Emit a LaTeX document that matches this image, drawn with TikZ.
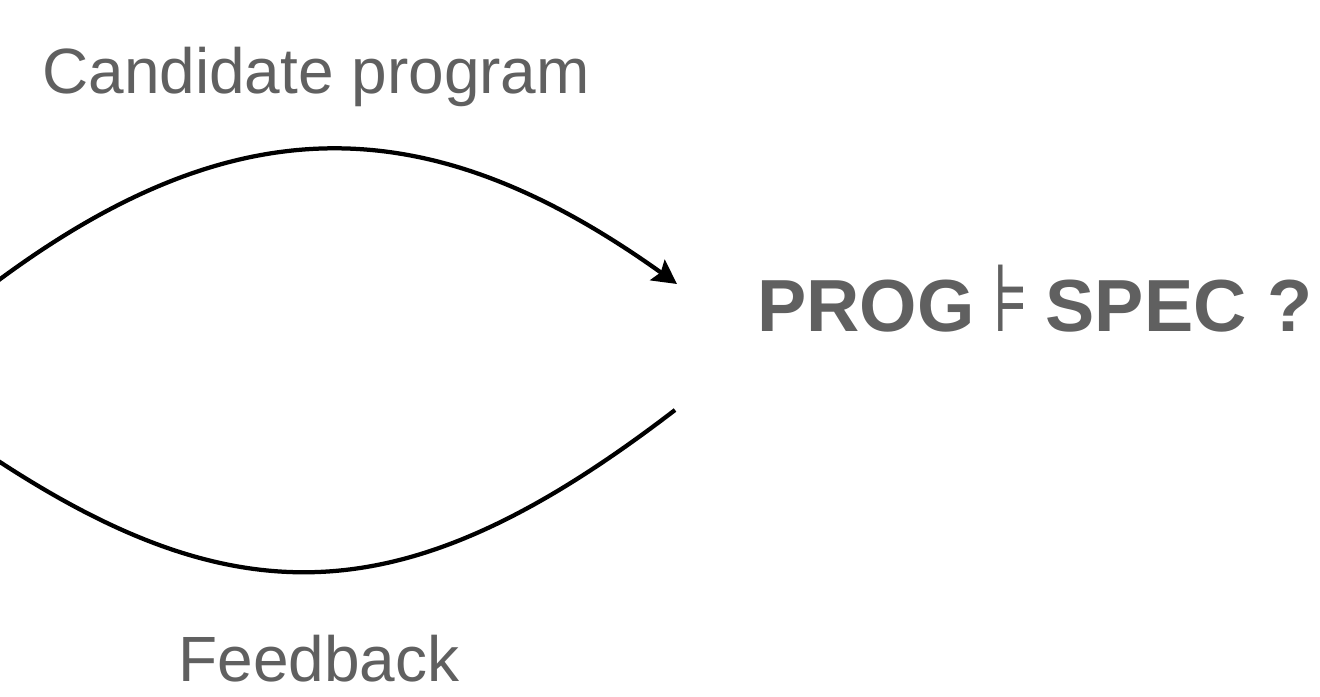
\documentclass[tikz,border=0pt]{standalone}
\usepackage{fontspec}
\setmainfont{Liberation Sans}
\newfontfamily\symfont{DejaVu Sans}
\usepackage{xcolor}
\usetikzlibrary{arrows.meta, positioning}
\definecolor{lpText}{HTML}{606060}
\definecolor{lpLine}{HTML}{000000}
\tikzset{
  lplabel/.style={inner sep=0pt, anchor=base west, text=lpText,
    font=\fontsize{36.4}{40}\selectfont},
  verdict/.style={inner sep=0pt, anchor=base west, text=lpText,
    font=\fontsize{42}{46}\selectfont\bfseries},
  loopline/.style={line width=0.85mm, lpLine},
  loopedge/.style={loopline, -{Stealth[length=4.8mm, width=5mm, inset=0.8mm]}}
}
\begin{document}
\begin{tikzpicture}[x=0.2mm, y=-0.2mm]
  \useasboundingbox (0,0) rectangle (1320,696);
  \clip (0,0) rectangle (1320,696);
  % labels
  \node[lplabel] (cand) at (42,93) {Candidate program};
  \node[lplabel] (feed) at (178,681) {Feedback};
  \node[verdict] (check) at (757,331) {PROG\hspace{0.24em}\scalebox{0.75}[1]{\symfont\mdseries\fontsize{54}{58}\selectfont ⊧}\hspace{0.22em}SPEC ?};
  % loop ends
  \coordinate (candout) at (-40,310);
  \coordinate (progin) at (677,284);
  \coordinate (specout) at (675,410);
  \coordinate (feedin) at (-40,435);
  % loop
  \draw[loopedge] (candout) .. controls (220,101) and (421,101) .. (progin);
  \draw[loopline] (specout) .. controls (399,622) and (227,622) .. (feedin);
\end{tikzpicture}
\end{document}
